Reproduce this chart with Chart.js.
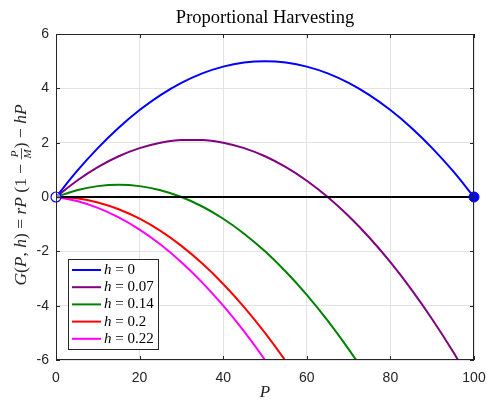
<!DOCTYPE html>
<html>
<head>
<meta charset="utf-8">
<script src="https://cdn.jsdelivr.net/npm/chart.js@4"></script>
<style>
  html, body { margin: 0; padding: 0; background: #fff; }
  #wrap { width: 487px; height: 401px; }
</style>
</head>
<body>
<div id="wrap"><canvas id="harvest"></canvas></div>
<script>
// Данные графика
const pValues = [0, 5, 10, 15, 20, 25, 30, 35, 40, 45, 50, 55, 60, 65, 70, 75, 80, 85, 90, 95, 100];
const hLabels = ['h = 0', 'h = 0.07', 'h = 0.14', 'h = 0.2', 'h = 0.22'];
const gH000 = [0, 0.95, 1.8, 2.55, 3.2, 3.75, 4.2, 4.55, 4.8, 4.95, 5, 4.95, 4.8, 4.55, 4.2, 3.75, 3.2, 2.55, 1.8, 0.95, 0];
const gH007 = [0, 0.6, 1.1, 1.5, 1.8, 2.0, 2.1, 2.1, 2.0, 1.8, 1.5, 1.1, 0.6, 0, -0.7, -1.5, -2.4, -3.4, -4.5, -5.7, -7];
const gH014 = [0, 0.25, 0.4, 0.45, 0.4, 0.25, 0, -0.35, -0.8, -1.35, -2, -2.75, -3.6, -4.55, -5.6, -6.75, -8];
const gH020 = [0, -0.05, -0.2, -0.45, -0.8, -1.25, -1.8, -2.45, -3.2, -4.05, -5, -6.05, -7.2];
const gH022 = [0, -0.15, -0.4, -0.75, -1.2, -1.75, -2.4, -3.15, -4, -4.95, -6, -7.15];
const seriesColors = ['#0000ff', '#800080', '#008000', '#ff0000', '#ff00ff'];
const xTicks = [0, 20, 40, 60, 80, 100];
const yTicks = [-6, -4, -2, 0, 2, 4, 6];

const allSeries = [gH000, gH007, gH014, gH020, gH022];
const axisColor = '#262626';

function toPoints(values) {
    return values.map((v, i) => ({ x: pValues[i], y: v }));
}

// Рамка, внутренние засечки, заголовки и легенда
const decorPlugin = {
    id: 'decor',
    afterDraw(chart) {
        const ctx = chart.ctx;
        const a = chart.chartArea;
        const xs = chart.scales.x, ys = chart.scales.y;
        ctx.save();
        ctx.strokeStyle = axisColor;
        ctx.lineWidth = 1;
        ctx.strokeRect(a.left + 0.5, a.top + 0.5, a.right - a.left - 1, a.bottom - a.top - 1);
        ctx.beginPath();
        xTicks.forEach(t => {
            const px = Math.round(xs.getPixelForValue(t)) + 0.5;
            ctx.moveTo(px, a.bottom); ctx.lineTo(px, a.bottom - 4);
            ctx.moveTo(px, a.top); ctx.lineTo(px, a.top + 4);
        });
        yTicks.forEach(t => {
            const py = Math.round(ys.getPixelForValue(t)) + 0.5;
            ctx.moveTo(a.left, py); ctx.lineTo(a.left + 4, py);
            ctx.moveTo(a.right, py); ctx.lineTo(a.right - 4, py);
        });
        ctx.stroke();

        // Заголовок
        ctx.fillStyle = '#000';
        ctx.textAlign = 'center';
        ctx.textBaseline = 'middle';
        ctx.font = '18.5px "Liberation Serif", serif';
        ctx.fillText('Proportional Harvesting', (a.left + a.right) / 2, 18);

        // Подпись оси X
        ctx.fillStyle = axisColor;
        ctx.font = 'italic 17px "Liberation Serif", serif';
        ctx.fillText('P', (a.left + a.right) / 2, 393);

        // Подпись оси Y (повёрнутая)
        ctx.save();
        ctx.translate(21, 195);
        ctx.rotate(-Math.PI / 2);
        const it = 'italic 17.5px "Liberation Serif", serif';
        const up = '17.5px "Liberation Serif", serif';
        const parts = [
            ['G', it], ['(', up], ['P', it], [', ', up], ['h', it], [') = ', up],
            ['rP', it], [' (1 \u2212 ', up], ['FRAC', null], [') \u2212 ', up], ['hP', it]
        ];
        const small = 'italic 11px "Liberation Serif", serif';
        let total = 0;
        parts.forEach(([s, f]) => {
            if (s === 'FRAC') { ctx.font = small; total += ctx.measureText('M').width + 2; }
            else { ctx.font = f; total += ctx.measureText(s).width; }
        });
        let cx = -total / 2;
        ctx.textAlign = 'left';
        parts.forEach(([s, f]) => {
            if (s === 'FRAC') {
                ctx.font = small;
                const w = ctx.measureText('M').width + 2;
                ctx.textAlign = 'center';
                ctx.fillText('P', cx + w / 2, -6);
                ctx.fillText('M', cx + w / 2, 7);
                ctx.fillRect(cx, 0, w, 0.8);
                ctx.textAlign = 'left';
                cx += w;
            } else {
                ctx.font = f;
                ctx.fillText(s, cx, 0);
                cx += ctx.measureText(s).width;
            }
        });
        ctx.restore();

        // Легенда
        const lx = 68, ly = 259, lw = 90, lh = 90;
        ctx.fillStyle = '#fff';
        ctx.fillRect(lx, ly, lw, lh);
        ctx.strokeStyle = axisColor;
        ctx.strokeRect(lx + 0.5, ly + 0.5, lw, lh);
        ctx.textAlign = 'left';
        hLabels.forEach((lab, i) => {
            const y = ly + 11 + i * 17.2;
            ctx.strokeStyle = seriesColors[i];
            ctx.lineWidth = 2;
            ctx.beginPath();
            ctx.moveTo(lx + 4, y); ctx.lineTo(lx + 33, y);
            ctx.stroke();
            ctx.fillStyle = '#000';
            const [h, rest] = lab.split(' = ');
            ctx.font = 'italic 15px "Liberation Serif", serif';
            ctx.fillText(h, lx + 36, y);
            let w = ctx.measureText(h).width;
            ctx.font = '15px "Liberation Serif", serif';
            ctx.fillText(' = ' + rest, lx + 36 + w, y);
        });
        ctx.restore();
    }
};

const datasets = [
    {
        type: 'scatter', data: [{ x: 0, y: 0 }], pointRadius: 5, pointBorderWidth: 1.2,
        pointBorderColor: '#0000ff', pointBackgroundColor: 'rgba(255,255,255,0.5)', clip: false
    },
    {
        type: 'scatter', data: [{ x: 100, y: 0 }], pointRadius: 5,
        pointBorderColor: '#0000ff', pointBackgroundColor: '#0000ff', clip: false
    },
    {
        data: [{ x: 0, y: 0 }, { x: 100, y: 0 }], borderColor: '#000', borderWidth: 2,
        pointRadius: 0
    }
];
allSeries.forEach((vals, i) => {
    datasets.push({
        label: hLabels[i],
        data: toPoints(vals),
        borderColor: seriesColors[i],
        borderWidth: 2,
        pointRadius: 0,
        cubicInterpolationMode: 'monotone'
    });
});

new Chart(document.getElementById('harvest'), {
    type: 'line',
    data: { datasets: datasets },
    options: {
        responsive: true,
        maintainAspectRatio: false,
        animation: false,
        events: [],
        layout: { padding: { left: 0, right: 13, top: 34, bottom: 0 } },
        plugins: { legend: { display: false }, title: { display: false }, tooltip: { enabled: false } },
        scales: {
            x: {
                type: 'linear', min: 0, max: 100,
                afterBuildTicks: s => { s.ticks = xTicks.map(v => ({ value: v })); },
                afterFit: s => { s.height = 41; s.paddingLeft = 0; s.paddingRight = 0; },
                ticks: { color: axisColor, font: { family: '"Liberation Sans", Arial, sans-serif', size: 14 }, padding: 10 },
                grid: { color: '#e3e3e3', drawTicks: false },
                border: { display: false }
            },
            y: {
                type: 'linear', min: -6, max: 6,
                afterBuildTicks: s => { s.ticks = yTicks.map(v => ({ value: v })); },
                afterFit: s => { s.width = 56; s.paddingTop = 0; s.paddingBottom = 0; },
                ticks: { color: axisColor, font: { family: '"Liberation Sans", Arial, sans-serif', size: 14 }, padding: 7 },
                grid: { color: '#e3e3e3', drawTicks: false },
                border: { display: false }
            }
        }
    },
    plugins: [decorPlugin]
});
</script>
</body>
</html>
